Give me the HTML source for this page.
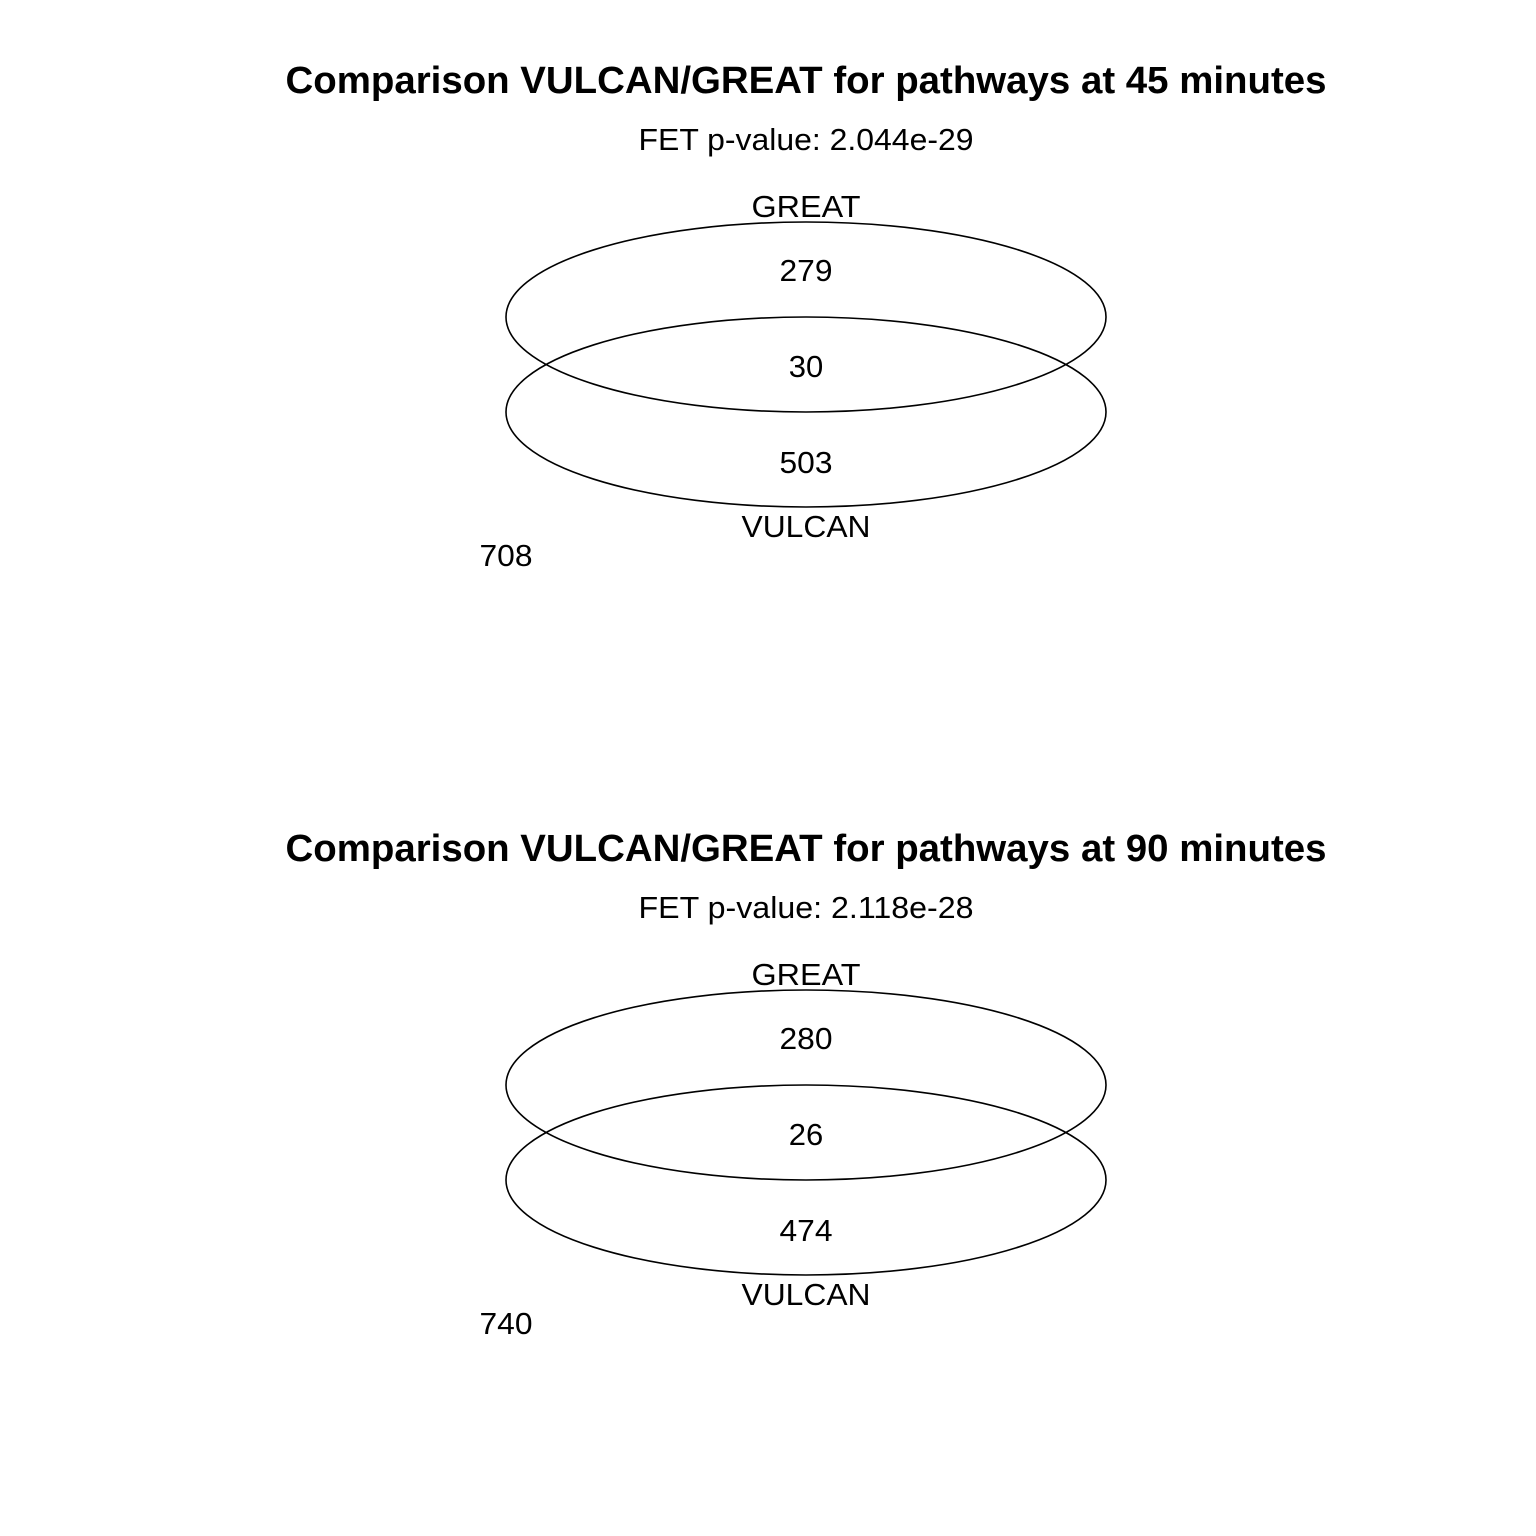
<!DOCTYPE html>
<html><head><meta charset="utf-8"><style>
html,body{margin:0;padding:0;background:#fff;}
svg{display:block;}
text{font-family:"Liberation Sans",Arial,sans-serif;fill:#000;text-anchor:middle;}
.t{font-weight:bold;font-size:38px;}
.s{font-size:31px;}
</style></head><body>
<svg width="1536" height="1536" viewBox="0 0 1536 1536" xmlns="http://www.w3.org/2000/svg">
<g>
<text class="t" x="806" y="93" textLength="1041" lengthAdjust="spacingAndGlyphs">Comparison VULCAN/GREAT for pathways at 45 minutes</text>
<text class="s" x="806" y="150" textLength="335" lengthAdjust="spacingAndGlyphs">FET p-value: 2.044e-29</text>
<text class="s" x="806" y="217" textLength="109" lengthAdjust="spacingAndGlyphs">GREAT</text>
<ellipse cx="806" cy="317" rx="300" ry="95" fill="none" stroke="#000" stroke-width="1.6"/>
<ellipse cx="806" cy="412" rx="300" ry="95" fill="none" stroke="#000" stroke-width="1.6"/>
<text class="s" x="806" y="281" textLength="53" lengthAdjust="spacingAndGlyphs">279</text>
<text class="s" x="806" y="377">30</text>
<text class="s" x="806" y="473" textLength="53" lengthAdjust="spacingAndGlyphs">503</text>
<text class="s" x="806" y="537" textLength="129" lengthAdjust="spacingAndGlyphs">VULCAN</text>
<text class="s" x="506" y="566" textLength="53" lengthAdjust="spacingAndGlyphs">708</text>
</g>
<g transform="translate(0,768)">
<text class="t" x="806" y="93" textLength="1041" lengthAdjust="spacingAndGlyphs">Comparison VULCAN/GREAT for pathways at 90 minutes</text>
<text class="s" x="806" y="150" textLength="335" lengthAdjust="spacingAndGlyphs">FET p-value: 2.118e-28</text>
<text class="s" x="806" y="217" textLength="109" lengthAdjust="spacingAndGlyphs">GREAT</text>
<ellipse cx="806" cy="317" rx="300" ry="95" fill="none" stroke="#000" stroke-width="1.6"/>
<ellipse cx="806" cy="412" rx="300" ry="95" fill="none" stroke="#000" stroke-width="1.6"/>
<text class="s" x="806" y="281" textLength="53" lengthAdjust="spacingAndGlyphs">280</text>
<text class="s" x="806" y="377">26</text>
<text class="s" x="806" y="473" textLength="53" lengthAdjust="spacingAndGlyphs">474</text>
<text class="s" x="806" y="537" textLength="129" lengthAdjust="spacingAndGlyphs">VULCAN</text>
<text class="s" x="506" y="566" textLength="53" lengthAdjust="spacingAndGlyphs">740</text>
</g>
</svg>
</body></html>
